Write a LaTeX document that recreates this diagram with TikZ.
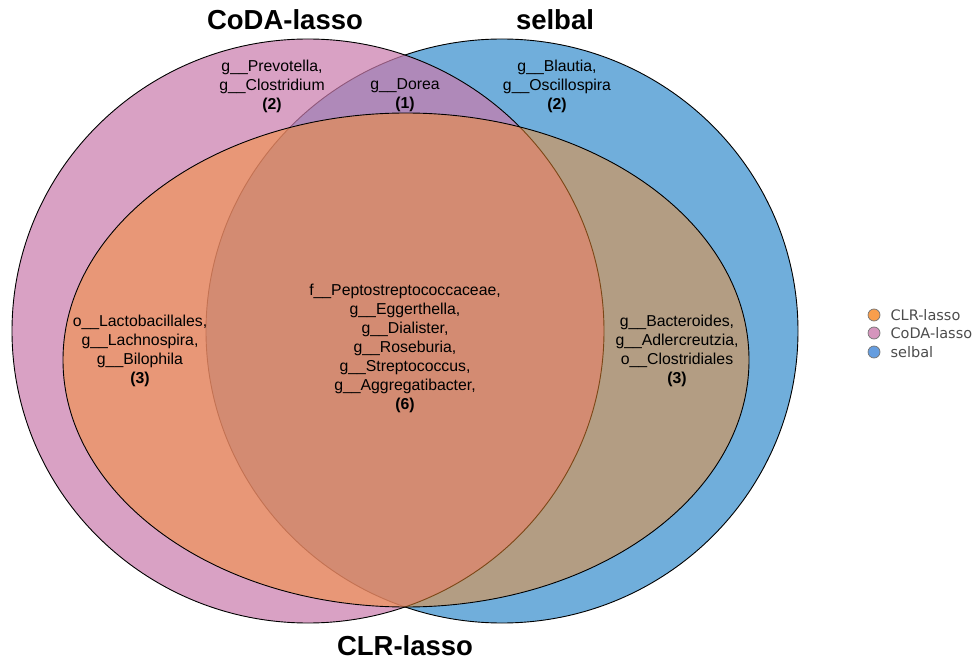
\documentclass[tikz,border=0pt]{standalone}
\usepackage{fontspec}
\setmainfont{Liberation Sans}
\newfontfamily\legendfont{DejaVu Sans}
\usetikzlibrary{shapes.geometric,positioning}
\definecolor{clrcol}{RGB}{247,141,44}
\definecolor{codacol}{RGB}{202,123,172}
\definecolor{selbalcol}{RGB}{112,174,219}
\tikzset{set/.style={%
        ellipse,
        inner sep=0pt,
        anchor=center,
        line width=0.9pt,
        draw=black}}
\tikzset{lbl/.style={align=center,inner sep=0pt,font=\fontsize{15.8}{19}\selectfont}}
\tikzset{settitle/.style={inner sep=0pt,font=\fontsize{27.5}{30}\selectfont\bfseries}}
\tikzset{key/.style={circle,minimum size=12pt,inner sep=0pt,draw=black!55,line width=0.7pt}}
\tikzset{keytext/.style={inner sep=0pt,text=black!70,font=\legendfont\fontsize{14.5}{16}\selectfont}}

\begin{document}
\begin{tikzpicture}[x=1pt,y=-1pt]
  \useasboundingbox (0,0) rectangle (978,663);
  % the three sets
  \node [set,fill=selbalcol,minimum width=592pt,minimum height=584pt] (selbal) at (502,331) {};
  \node [set,fill=codacol,fill opacity=0.71,minimum width=592pt,minimum height=584pt] (coda) at (308,331) {};
  \node [set,fill=clrcol,fill opacity=0.5,minimum width=686pt,minimum height=494pt] (clr) at (406,360) {};
  % set names
  \node [settitle] (tcoda) at (285,20) {CoDA-lasso};
  \node [settitle] (tselbal) at (555,20) {selbal};
  \node [settitle] (tclr) at (405,646) {CLR-lasso};
  % regions
  \node [lbl] (r100) at (272,86) {g\_\_Prevotella,\\g\_\_Clostridium\\\textbf{(2)}};
  \node [lbl] (r110) at (405,95) {g\_\_Dorea\\\textbf{(1)}};
  \node [lbl] (r010) at (557,86) {g\_\_Blautia,\\g\_\_Oscillospira\\\textbf{(2)}};
  \node [lbl] (r101) at (140,351) {o\_\_Lactobacillales,\\g\_\_Lachnospira,\\g\_\_Bilophila\\\textbf{(3)}};
  \node [lbl] (r111) at (405,348) {f\_\_Peptostreptococcaceae,\\g\_\_Eggerthella,\\g\_\_Dialister,\\g\_\_Roseburia,\\g\_\_Streptococcus,\\g\_\_Aggregatibacter,\\\textbf{(6)}};
  \node [lbl] (r011) at (677,351) {g\_\_Bacteroides,\\g\_\_Adlercreutzia,\\o\_\_Clostridiales\\\textbf{(3)}};
  % legend
  \node [key,fill=clrcol!85] (k1) at (874,315) {};
  \node [key,fill=codacol!80] (k2) at (874,333) {};
  \node [key,fill=selbalcol!90!blue] (k3) at (874,352) {};
  \node [keytext,anchor=west,right=10pt of k1] (l1) {CLR-lasso};
  \node [keytext,anchor=west,right=10pt of k2] (l2) {CoDA-lasso};
  \node [keytext,anchor=west,right=10pt of k3] (l3) {selbal};
\end{tikzpicture}
\end{document}
